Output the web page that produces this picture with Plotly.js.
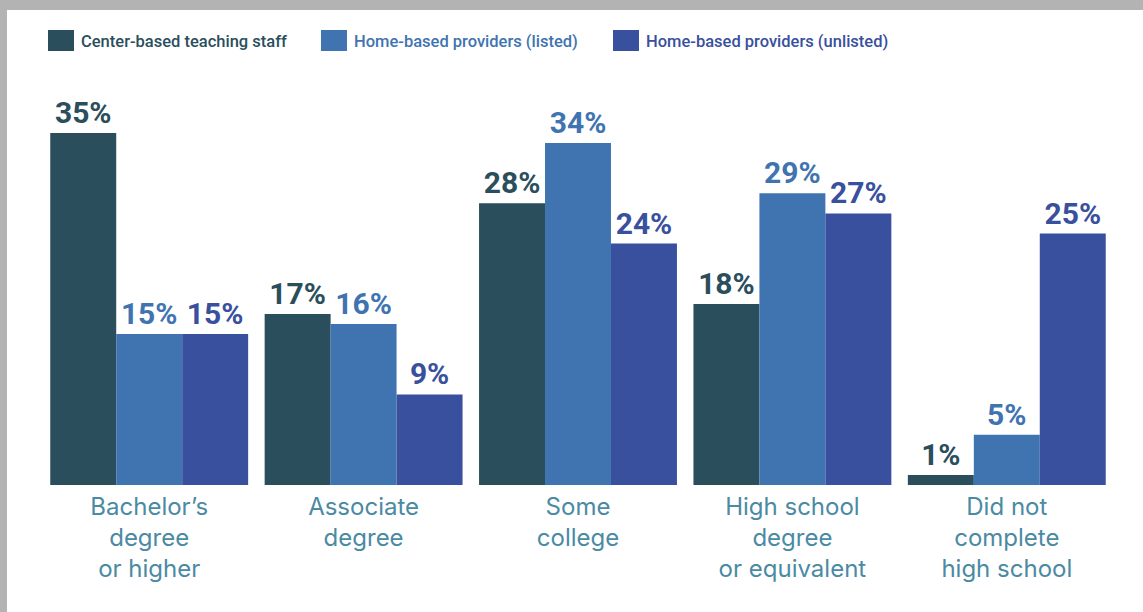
<!DOCTYPE html>
<html>
<head>
<meta charset="utf-8">
<script src="https://cdn.plot.ly/plotly-3.0.1.min.js"></script>
<style>
html,body{margin:0;padding:0;background:#b3b3b3;width:1143px;height:612px;overflow:hidden;}
#chart{position:absolute;left:7px;top:10px;width:1136px;height:602px;background:#fff;}
</style>
</head>
<body>
<div id="chart"></div>
<script>
const categories = ["Bachelor’s<br>degree<br>or higher", "Associate<br>degree", "Some<br>college", "High school<br>degree<br>or equivalent", "Did not<br>complete<br>high school"];
const seriesNames = ["Center-based teaching staff", "Home-based providers (listed)", "Home-based providers (unlisted)"];
const centerStaff = [35, 17, 28, 18, 1];
const listedProviders = [15, 16, 34, 29, 5];
const unlistedProviders = [15, 9, 24, 27, 25];
const colors = ["#2a4e5c", "#3f74b0", "#39509e"];

const W = 1136, H = 602, L = 35, R = 29, T = 90, B = 127;
const pw = W - L - R, ph = H - T - B;
const px = X => (X - L) / pw;
const py = Y => (H - B - Y) / ph;

const allSeries = [centerStaff, listedProviders, unlistedProviders];
const traces = allSeries.map((vals, i) => ({
  type: "bar",
  x: categories,
  y: vals,
  name: seriesNames[i],
  marker: {color: colors[i], line: {width: 0}},
  text: vals.map(v => v + "%"),
  textposition: "outside",
  cliponaxis: false,
  textfont: {family: "Roboto", size: 30, color: colors[i], weight: 700},
  hoverinfo: "skip"
}));

const legendX = [41, 314, 606];
const shapes = [], annotations = [];
seriesNames.forEach((n, i) => {
  shapes.push({type: "rect", xref: "paper", yref: "paper",
    x0: px(legendX[i]), x1: px(legendX[i] + 26), y0: py(41), y1: py(20),
    fillcolor: colors[i], line: {width: 0}});
  annotations.push({xref: "paper", yref: "paper", x: px(legendX[i] + 31), y: py(32),
    xanchor: "left", yanchor: "middle", showarrow: false, text: n,
    font: {family: "Roboto", size: 16.5, color: colors[i], weight: 500}});
});

const layout = {
  width: W, height: H,
  margin: {l: L, r: R, t: T, b: B, pad: 0},
  paper_bgcolor: "#ffffff", plot_bgcolor: "#ffffff",
  barmode: "group", bargap: 0.077, bargroupgap: 0,
  showlegend: false,
  xaxis: {showgrid: false, zeroline: false, showline: false, ticks: "",
    ticklabelstandoff: 5,
    tickfont: {family: "Inter", size: 24, color: "#4a8aa3"}, automargin: false},
  yaxis: {range: [0, 38.27], visible: false, showgrid: false, zeroline: false, fixedrange: true},
  shapes: shapes, annotations: annotations
};
Plotly.newPlot("chart", traces, layout, {displayModeBar: false, staticPlot: true});
</script>
</body>
</html>
